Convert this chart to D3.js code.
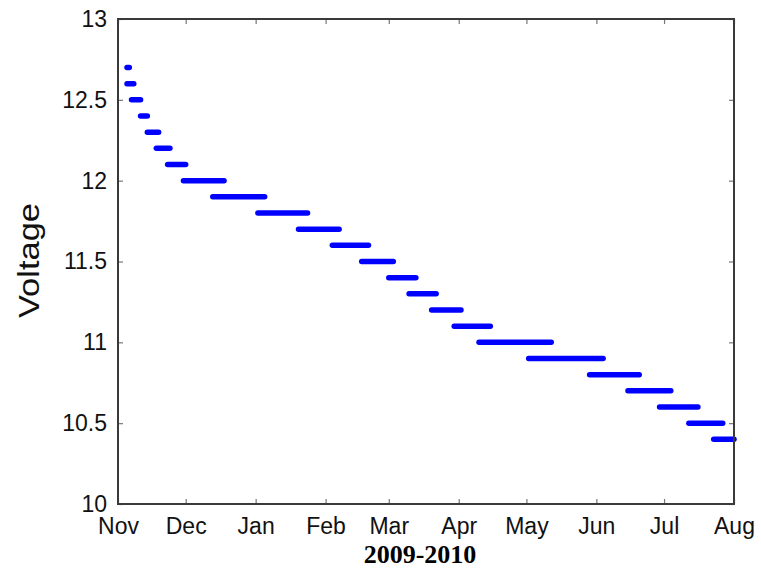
<!DOCTYPE html>
<html>
<head>
<meta charset="utf-8">
<script src="https://cdn.jsdelivr.net/npm/d3@7"></script>
<style>
  body { margin: 0; background: #fff; }
  svg { display: block; }
</style>
</head>
<body>
<svg id="chart" width="761" height="569"></svg>
<script>
// Data: each voltage step and the dates it was held
const levels = [12.7, 12.6, 12.5, 12.4, 12.3, 12.2, 12.1, 12.0, 11.9, 11.8, 11.7, 11.6,
  11.5, 11.4, 11.3, 11.2, 11.1, 11.0, 10.9, 10.8, 10.7, 10.6, 10.5, 10.4];
const startDates = ["2009-11-05", "2009-11-05", "2009-11-07", "2009-11-11", "2009-11-14",
  "2009-11-18", "2009-11-23", "2009-11-30", "2009-12-13", "2010-01-02", "2010-01-20",
  "2010-02-04", "2010-02-17", "2010-03-01", "2010-03-10", "2010-03-20", "2010-03-30",
  "2010-04-10", "2010-05-02", "2010-05-29", "2010-06-15", "2010-06-29", "2010-07-12",
  "2010-07-23"];
const endDates = ["2009-11-06", "2009-11-08", "2009-11-11", "2009-11-14", "2009-11-19",
  "2009-11-24", "2009-12-01", "2009-12-18", "2010-01-05", "2010-01-24", "2010-02-07",
  "2010-02-20", "2010-03-03", "2010-03-13", "2010-03-22", "2010-04-02", "2010-04-15",
  "2010-05-12", "2010-06-04", "2010-06-20", "2010-07-04", "2010-07-16", "2010-07-27",
  "2010-08-01"];
const monthTicks = ["2009-11-01", "2009-12-01", "2010-01-01", "2010-02-01", "2010-03-01",
  "2010-04-01", "2010-05-01", "2010-06-01", "2010-07-01", "2010-08-01"];
const yTicks = [10, 10.5, 11, 11.5, 12, 12.5, 13];

const parse = d3.utcParse("%Y-%m-%d");
const segs = levels.map((v, i) => ({ v, a: parse(startDates[i]), b: parse(endDates[i]) }));

const svg = d3.select("#chart");
const m = { left: 118, right: 734, top: 19, bottom: 504 };

const x = d3.scaleUtc()
  .domain([parse(monthTicks[0]), parse(monthTicks[monthTicks.length - 1])])
  .range([m.left, m.right]);
const y = d3.scaleLinear().domain([10, 13]).range([m.bottom, m.top]);

const tickVals = monthTicks.map(parse);
const fmt = d3.utcFormat("%b");

// bars
svg.append("g")
  .selectAll("line")
  .data(segs)
  .join("line")
  .attr("x1", d => x(d.a))
  .attr("x2", d => x(d.b))
  .attr("y1", d => y(d.v))
  .attr("y2", d => y(d.v))
  .attr("stroke", "#0000ff")
  .attr("stroke-width", 5.5)
  .attr("stroke-linecap", "round");

// axes (inward ticks, box)
function styleAxis(g) {
  g.select(".domain").remove();
  g.selectAll(".tick line").attr("stroke", "#777").attr("stroke-width", 1.2);
  g.selectAll(".tick text")
    .attr("fill", "#111")
    .style("font-family", "'Liberation Sans', Arial, sans-serif")
    .style("font-size", "23px");
}

svg.append("g")
  .attr("transform", `translate(0,${m.bottom})`)
  .call(d3.axisBottom(x).tickValues(tickVals).tickFormat(fmt).tickSizeInner(-5).tickSizeOuter(0).tickPadding(14))
  .call(styleAxis);
svg.append("g")
  .attr("transform", `translate(0,${m.top})`)
  .call(d3.axisTop(x).tickValues(tickVals).tickFormat("").tickSizeInner(-5).tickSizeOuter(0))
  .call(styleAxis);
svg.append("g")
  .attr("transform", `translate(${m.left},0)`)
  .call(d3.axisLeft(y).tickValues(yTicks).tickFormat(d3.format("")).tickSizeInner(-5).tickSizeOuter(0).tickPadding(11))
  .call(styleAxis);
svg.append("g")
  .attr("transform", `translate(${m.right},0)`)
  .call(d3.axisRight(y).tickValues(yTicks).tickFormat("").tickSizeInner(-5).tickSizeOuter(0))
  .call(styleAxis);

svg.append("rect")
  .attr("x", m.left).attr("y", m.top)
  .attr("width", m.right - m.left).attr("height", m.bottom - m.top)
  .attr("fill", "none")
  .attr("stroke", "#3a3a3a")
  .attr("stroke-width", 2);

// labels
svg.append("text")
  .attr("transform", `translate(39,${(203 + 318) / 2}) rotate(-90)`)
  .attr("text-anchor", "middle")
  .attr("textLength", 115)
  .attr("lengthAdjust", "spacingAndGlyphs")
  .style("font-family", "'Liberation Sans', Arial, sans-serif")
  .style("font-size", "29px")
  .attr("fill", "#111")
  .text("Voltage");

svg.append("text")
  .attr("x", 420)
  .attr("y", 563)
  .attr("text-anchor", "middle")
  .style("font-family", "'Liberation Serif', 'Times New Roman', serif")
  .style("font-weight", "bold")
  .style("font-size", "26px")
  .attr("fill", "#000")
  .text("2009-2010");
</script>
</body>
</html>
